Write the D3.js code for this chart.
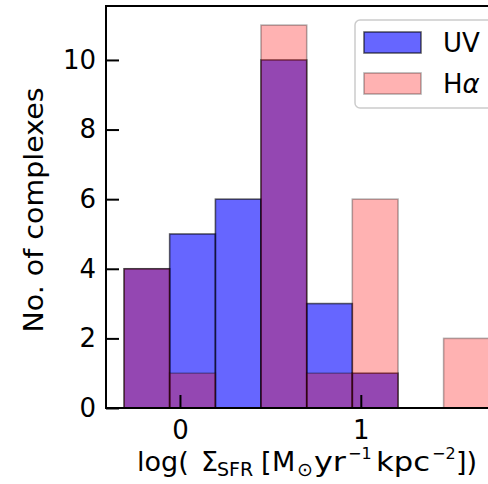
<!DOCTYPE html>
<html>
<head>
<meta charset="utf-8">
<script src="https://cdn.jsdelivr.net/npm/d3@7"></script>
<style>
  html, body { margin: 0; padding: 0; background: #fff; }
  svg { display: block; font-family: "DejaVu Sans", sans-serif; }
  text { white-space: pre; }
</style>
</head>
<body>
<svg id="chart" width="488" height="484"></svg>
<script>
// Histogram bin edges in log(Sigma_SFR)
const binEdges = [-0.309, -0.057, 0.196, 0.448, 0.701, 0.953, 1.206, 1.458, 1.711];
// Counts of complexes per bin
const uvCounts = [4, 5, 6, 10, 3, 1, 0, 0];
const haCounts = [4, 1, 0, 11, 1, 6, 0, 2];
const xTicks = [0, 1];
const yTicks = [0, 2, 4, 6, 8, 10];
const seriesNames = [["UV", ""], ["H", "\u03b1"]];

const svg = d3.select("#chart");

const x = d3.scaleLinear().domain([-0.409, 1.814]).range([106, 508]);
const y = d3.scaleLinear().domain([0, 11.55]).range([408, 6]);

const series = [
  { name: seriesNames[0], counts: uvCounts, fill: "#0000ff", alpha: 0.6 },
  { name: seriesNames[1], counts: haCounts, fill: "#ff0000", alpha: 0.3 }
];

const plot = svg.append("g");
series.forEach(s => {
  const bins = s.counts.map((c, i) => ({ x0: binEdges[i], x1: binEdges[i + 1], c }))
    .filter(b => b.c > 0);
  plot.append("g").selectAll("rect").data(bins).join("rect")
    .attr("x", d => x(d.x0))
    .attr("width", d => x(d.x1) - x(d.x0))
    .attr("y", d => y(d.c))
    .attr("height", d => y(0) - y(d.c))
    .attr("fill", s.fill)
    .attr("fill-opacity", s.alpha)
    .attr("stroke", "#000")
    .attr("stroke-opacity", s.alpha)
    .attr("stroke-width", 1.6);
});

// Axes with inward ticks
const xAxis = svg.append("g").attr("transform", `translate(0,${y(0)})`)
  .call(d3.axisBottom(x).tickValues(xTicks).tickFormat(d3.format("d"))
    .tickSizeInner(-13).tickSizeOuter(0).tickPadding(13));
const yAxis = svg.append("g").attr("transform", `translate(${x.range()[0]},0)`)
  .call(d3.axisLeft(y).tickValues(yTicks).tickFormat(d3.format("d"))
    .tickSizeInner(-13).tickSizeOuter(0).tickPadding(10));
[xAxis, yAxis].forEach(a => {
  a.select(".domain").remove();
  a.selectAll(".tick line").attr("stroke", "#000").attr("stroke-width", 2);
  a.selectAll(".tick text").attr("font-size", 26).attr("fill", "#000")
    .attr("font-family", "DejaVu Sans");
});

// Frame (spines)
svg.append("rect")
  .attr("x", x.range()[0]).attr("y", y.range()[1])
  .attr("width", x.range()[1] - x.range()[0])
  .attr("height", y.range()[0] - y.range()[1])
  .attr("fill", "none").attr("stroke", "#000").attr("stroke-width", 2);

// Axis labels
svg.append("text")
  .attr("transform", "translate(43,210) rotate(-90)")
  .attr("text-anchor", "middle")
  .attr("font-size", 27)
  .attr("textLength", 245)
  .attr("lengthAdjust", "spacingAndGlyphs")
  .text("No. of complexes");

// x label: log( Σ_SFR [M_⊙ yr^-1 kpc^-2])
const labelParts = [
  { t: "log(", x: 137, kind: "main" },
  { t: "\u03a3", x: 201, kind: "main" },
  { t: "SFR", x: 217, kind: "sub" },
  { t: "[", x: 261, kind: "main" },
  { t: "M", x: 272, kind: "main" },
  { t: "\u2299", x: 297, kind: "sub" },
  { t: "yr", x: 314, kind: "main", len: 32 },
  { t: "\u22121", x: 348, kind: "sup" },
  { t: "kpc", x: 376, kind: "main", len: 54 },
  { t: "\u22122", x: 432, kind: "sup" },
  { t: "])", x: 456, kind: "main" }
];
const xl = svg.append("text").attr("y", 471).attr("font-size", 27);
labelParts.forEach(p => {
  const ts = xl.append("tspan")
    .attr("x", p.x)
    .attr("y", p.kind === "sub" ? 476 : p.kind === "sup" ? 459 : 471)
    .attr("font-size", p.kind === "main" ? 27 : p.kind === "sub" ? 19 : 16)
    .text(p.t);
  if (p.len) ts.attr("textLength", p.len).attr("lengthAdjust", "spacingAndGlyphs");
});

// Legend
const lg = svg.append("g");
lg.append("rect")
  .attr("x", 355).attr("y", 20).attr("width", 160).attr("height", 88)
  .attr("rx", 5)
  .attr("fill", "#fff").attr("fill-opacity", 0.8)
  .attr("stroke", "#cccccc").attr("stroke-width", 1.5);
series.forEach((s, i) => {
  const yy = 32 + i * 41;
  lg.append("rect")
    .attr("x", 364).attr("y", yy).attr("width", 57).attr("height", 21)
    .attr("fill", s.fill).attr("fill-opacity", s.alpha)
    .attr("stroke", "#000").attr("stroke-opacity", s.alpha).attr("stroke-width", 1.6);
  const t = lg.append("text")
    .attr("x", 443).attr("y", yy + 20)
    .attr("font-size", 26);
  t.append("tspan").text(s.name[0]);
  if (s.name[1]) t.append("tspan").attr("font-style", "italic").text(s.name[1]);
});
</script>
</body>
</html>
